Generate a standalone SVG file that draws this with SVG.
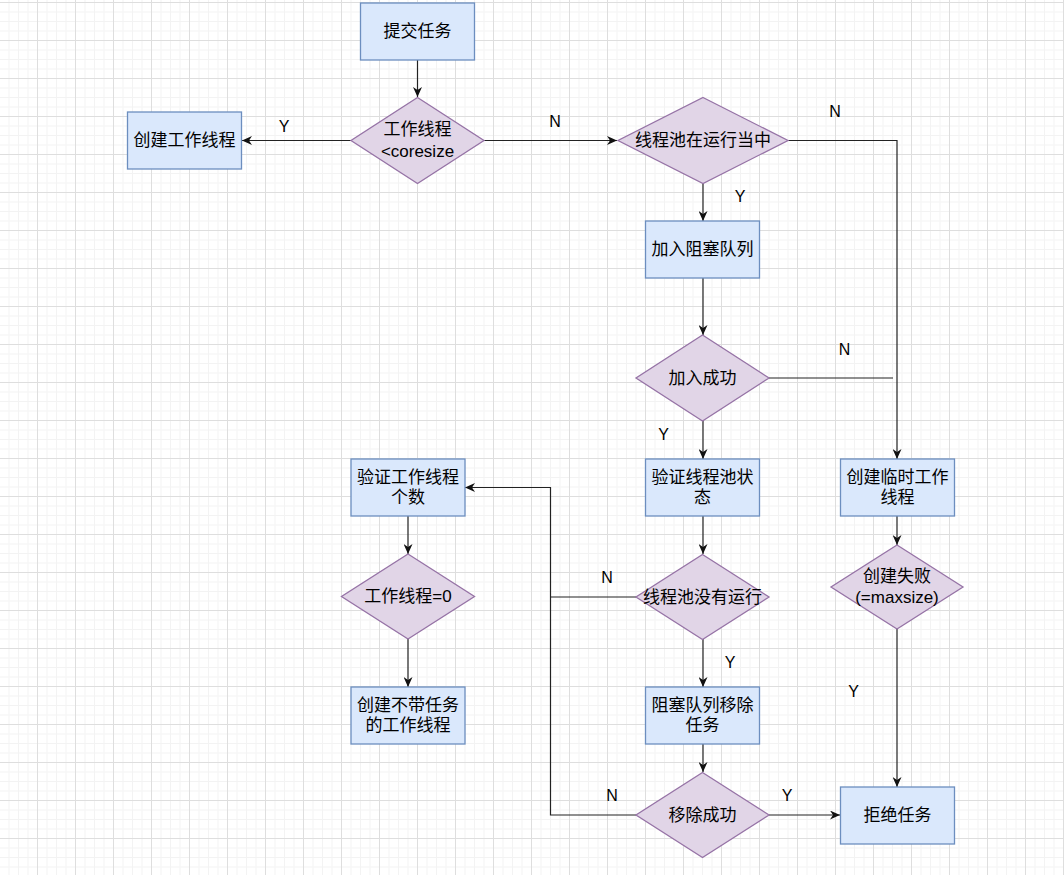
<svg xmlns="http://www.w3.org/2000/svg" width="1064" height="875" viewBox="0 0 1064 875">
<style>
.box{fill:#dae8fc;stroke:#6c8ebf;stroke-width:1.3}
.dia{fill:#e1d5e7;stroke:#9673a6;stroke-width:1.3}
.t{font-family:"Liberation Sans","Noto Sans CJK SC",sans-serif;font-size:17px;fill:#000;text-anchor:middle;dominant-baseline:central}
.lbl{font-family:"Liberation Sans","Noto Sans CJK SC",sans-serif;font-size:16px;fill:#000;text-anchor:middle;dominant-baseline:central}
.ln{fill:none;stroke:#222;stroke-width:1.2}
.arr{marker-end:url(#ah)}
</style>
<defs>
<pattern id="grid" x="-1" y="2" width="38" height="38" patternUnits="userSpaceOnUse">
<rect x="9.5" y="0" width="1" height="38" fill="#f3f3f3"/>
<rect x="19" y="0" width="1" height="38" fill="#f3f3f3"/>
<rect x="28.5" y="0" width="1" height="38" fill="#f3f3f3"/>
<rect x="0" y="9.5" width="38" height="1" fill="#f3f3f3"/>
<rect x="0" y="19" width="38" height="1" fill="#f3f3f3"/>
<rect x="0" y="28.5" width="38" height="1" fill="#f3f3f3"/>
<rect x="0" y="0" width="1" height="38" fill="#dedede"/>
<rect x="0" y="0" width="38" height="1" fill="#dedede"/>
</pattern>
<marker id="ah" markerUnits="userSpaceOnUse" markerWidth="11" markerHeight="9" refX="10" refY="4.5" orient="auto" viewBox="0 0 11 9">
<path d="M0,0 L10,4.5 L0,9 L3,4.5 Z" fill="#111"/>
</marker>
</defs>
<rect width="1064" height="875" fill="#ffffff"/>
<rect width="1064" height="875" fill="url(#grid)"/>

<g id="connectors">
<path class="ln arr" d="M417.5,60 L417.5,97"/>
<path class="ln arr" d="M484,140.5 L617,140.5"/>
<path class="ln arr" d="M351,140.5 L242,140.5"/>
<path class="ln arr" d="M788,140.5 L897,140.5 L897,459"/>
<path class="ln arr" d="M703,183 L703,221"/>
<path class="ln arr" d="M703,278 L703,335"/>
<path class="ln" d="M769,378 L893,378"/>
<path class="ln arr" d="M703,421 L703,459"/>
<path class="ln arr" d="M897,516 L897,545"/>
<path class="ln arr" d="M897,629 L897,787"/>
<path class="ln arr" d="M703,516 L703,554"/>
<path class="ln" d="M636,597 L550.5,597"/>
<path class="ln arr" d="M636,815 L550.5,815 L550.5,487.5 L465,487.5"/>
<path class="ln arr" d="M703,639 L703,687"/>
<path class="ln arr" d="M703,744 L703,772"/>
<path class="ln arr" d="M769,815 L840,815"/>
<path class="ln arr" d="M408,516 L408,554"/>
<path class="ln arr" d="M408,639 L408,687"/>
<text class="lbl" x="555" y="121.5">N</text>
<text class="lbl" x="284" y="126">Y</text>
<text class="lbl" x="835" y="111.5">N</text>
<text class="lbl" x="740" y="196.5">Y</text>
<text class="lbl" x="844.5" y="349.5">N</text>
<text class="lbl" x="663.5" y="434">Y</text>
<text class="lbl" x="607" y="577">N</text>
<text class="lbl" x="730" y="662">Y</text>
<text class="lbl" x="853.5" y="691">Y</text>
<text class="lbl" x="612" y="795">N</text>
<text class="lbl" x="787" y="795">Y</text>
</g>

<g id="submit">
<rect class="box" x="360.5" y="3" width="114" height="57"/>
<text class="t" x="417.5" y="31.5">提交任务</text>
</g>
<g id="check-core">
<polygon class="dia" points="417.5,97.5 484,140.5 417.5,183.5 351,140.5"/>
<text class="t" x="417.5" y="129">工作线程</text>
<text class="t" x="417.5" y="151">&lt;coresize</text>
</g>
<g id="create-worker">
<rect class="box" x="127.5" y="112" width="114" height="57"/>
<text class="t" x="184.5" y="140.5">创建工作线程</text>
</g>
<g id="pool-running">
<polygon class="dia" points="703,97.5 788,140.5 703,183.5 618,140.5"/>
<text class="t" x="703" y="140.5">线程池在运行当中</text>
</g>
<g id="enqueue">
<rect class="box" x="645.5" y="221" width="114" height="57"/>
<text class="t" x="702.5" y="249.5">加入阻塞队列</text>
</g>
<g id="enqueue-ok">
<polygon class="dia" points="702.5,335 769,378 702.5,421 636,378"/>
<text class="t" x="702.5" y="378">加入成功</text>
</g>
<g id="check-pool-state">
<rect class="box" x="645.5" y="459" width="114" height="57"/>
<text class="t" x="702.5" y="477">验证线程池状</text>
<text class="t" x="702.5" y="497">态</text>
</g>
<g id="create-temp">
<rect class="box" x="840.5" y="459" width="114" height="57"/>
<text class="t" x="897.5" y="477">创建临时工作</text>
<text class="t" x="897.5" y="497">线程</text>
</g>
<g id="create-fail">
<polygon class="dia" points="897,545 963,587 897,629 831,587"/>
<text class="t" x="897" y="576.5">创建失败</text>
<text class="t" x="897" y="597.5">(=maxsize)</text>
</g>
<g id="pool-not-running">
<polygon class="dia" points="702.5,554.5 769,597 702.5,639.5 636,597"/>
<text class="t" x="702.5" y="597">线程池没有运行</text>
</g>
<g id="queue-remove">
<rect class="box" x="645.5" y="687" width="114" height="57"/>
<text class="t" x="702.5" y="705">阻塞队列移除</text>
<text class="t" x="702.5" y="725">任务</text>
</g>
<g id="remove-ok">
<polygon class="dia" points="702.5,772.5 769,815 702.5,857.5 636,815"/>
<text class="t" x="702.5" y="815">移除成功</text>
</g>
<g id="reject">
<rect class="box" x="840.5" y="787" width="114" height="57"/>
<text class="t" x="897.5" y="815">拒绝任务</text>
</g>
<g id="check-worker-count">
<rect class="box" x="351" y="459" width="114" height="57"/>
<text class="t" x="408" y="477">验证工作线程</text>
<text class="t" x="408" y="497">个数</text>
</g>
<g id="worker-zero">
<polygon class="dia" points="408,554 474.5,596.5 408,639 341.5,596.5"/>
<text class="t" x="408" y="596.5">工作线程=0</text>
</g>
<g id="create-empty-worker">
<rect class="box" x="351" y="687" width="114" height="57"/>
<text class="t" x="408" y="705">创建不带任务</text>
<text class="t" x="408" y="725">的工作线程</text>
</g>
</svg>
